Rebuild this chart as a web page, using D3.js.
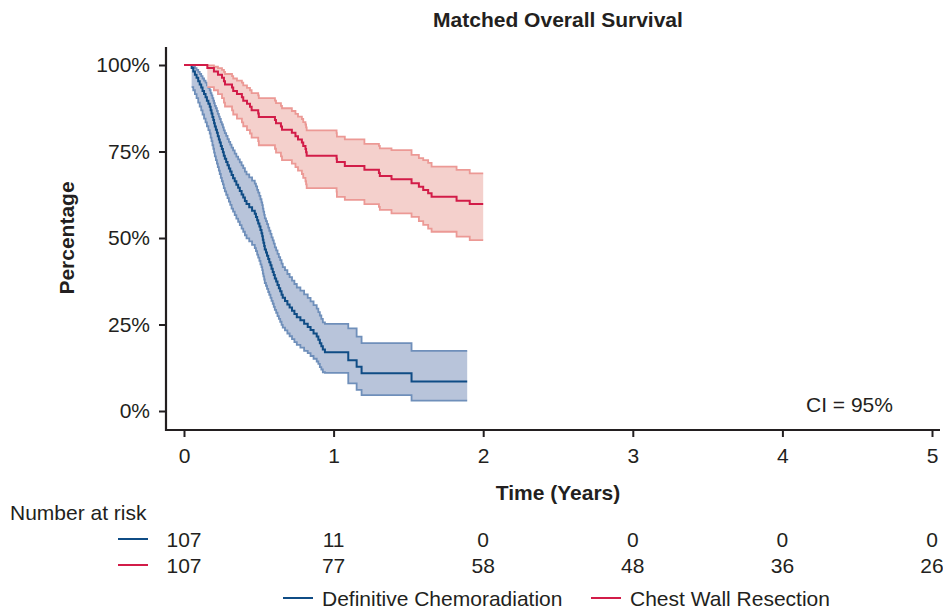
<!DOCTYPE html>
<html><head><meta charset="utf-8">
<script src="https://cdn.jsdelivr.net/npm/d3@7"></script>
<style>
html,body{margin:0;padding:0;background:#fff;}
svg{display:block;font-family:"Liberation Sans",Arial,Helvetica,sans-serif;}
</style></head>
<body><svg id="chart" width="943" height="611"></svg>
<script>
// ---------- data ----------
const title = "Matched Overall Survival";
const xTicks = [0, 1, 2, 3, 4, 5];
const yTicks = [0, 0.25, 0.5, 0.75, 1];
const yTickLabels = ["0%", "25%", "50%", "75%", "100%"];
const groups = ["Definitive Chemoradiation", "Chest Wall Resection"];
const riskBlue = [107, 11, 0, 0, 0, 0];
const riskRed = [107, 77, 58, 48, 36, 26];

// Definitive Chemoradiation (blue) KM steps
const blueTime = [0,
 0.051,0.062,0.073,0.084,0.095,0.105,
 0.115,0.124,0.134,0.144,0.153,0.163,0.172,
 0.178,0.184,0.190,0.196,0.201,0.206,
 0.213,0.220,0.226,0.233,0.239,
 0.246,0.253,0.260,0.266,0.273,
 0.282,0.291,0.300,0.309,0.318,
 0.328,0.339,0.350,
 0.362,0.373,0.385,0.396,0.407,0.418,
 0.436,0.455,0.473,
 0.481,0.489,0.496,0.504,0.511,0.518,
 0.523,0.527,0.531,0.536,0.540,
 0.548,0.555,0.563,0.570,0.578,0.585,0.593,0.600,0.607,
 0.616,0.625,0.634,0.643,0.652,0.660,
 0.675,0.691,0.706,0.722,0.738,0.754,
 0.778,0.803,0.827,
 0.846,0.866,0.887,
 0.898,0.908,0.918,0.928,
 0.942,
 1.098,1.154,1.187,1.521,1.893];
const blueSurv = [1,
 .991,.981,.972,.963,.953,.944,.935,.925,.916,.907,
 .897,.888,.879,.869,.860,.850,.841,.832,.822,.813,
 .804,.794,.785,.776,.766,.757,.748,.738,.729,.720,
 .710,.701,.692,.682,.673,.664,.654,.645,.636,.626,
 .617,.607,.598,.589,.579,.570,.561,.551,.542,.533,
 .523,.514,.505,.495,.486,.477,.467,.458,.449,.439,
 .430,.421,.411,.402,.393,.383,.374,.364,.355,.346,
 .336,.327,.318,.308,.299,.290,.280,.271,.262,.252,
 .243,.234,.224,.215,.206,.196,.187,.178,.170,
 .147,.128,.109,.085,.085];
const blueUpper = [1,
 .999,.995,.991,.986,.980,.974,.968,.961,.955,.949,
 .941,.934,.927,.919,.912,.904,.897,.890,.882,.875,
 .867,.859,.851,.844,.835,.828,.820,.811,.803,.795,
 .786,.778,.770,.761,.753,.744,.735,.727,.719,.710,
 .702,.692,.684,.675,.666,.657,.649,.639,.631,.622,
 .612,.603,.595,.585,.576,.567,.557,.549,.540,.530,
 .521,.512,.502,.493,.484,.473,.464,.454,.445,.436,
 .426,.416,.407,.396,.387,.377,.367,.357,.348,.337,
 .327,.317,.306,.296,.286,.276,.266,.256,.252,
 .239,.215,.196,.174,.174];
const blueLower = [1,
 .936,.927,.916,.904,.891,.880,.869,.857,.845,.834,
 .823,.812,.802,.790,.780,.768,.758,.747,.736,.725,
 .715,.705,.695,.685,.674,.664,.655,.644,.635,.625,
 .615,.605,.596,.585,.576,.566,.556,.547,.537,.527,
 .518,.508,.499,.490,.480,.471,.462,.452,.443,.434,
 .424,.416,.407,.397,.389,.380,.370,.362,.353,.344,
 .336,.327,.318,.310,.301,.292,.284,.274,.266,.258,
 .249,.241,.233,.224,.216,.208,.199,.191,.183,.174,
 .167,.159,.151,.143,.136,.127,.120,.112,.110,
 .080,.061,.046,.030,.030];

// Chest Wall Resection (red) KM steps
const redTime = [0,
 0.156,0.200,0.227,0.254,0.267,0.274,0.321,0.329,0.354,0.387,
 0.396,0.421,0.441,0.452,0.496,0.500,0.608,0.615,0.648,0.655,
 0.721,0.745,0.762,0.788,0.797,0.812,0.816,0.820,
 1.020,1.022,1.075,1.206,1.303,1.309,1.387,1.521,1.570,1.599,1.632,1.655,1.822,1.910,
 2.0];
const redSurv = [1,
 .991,.981,.972,.963,.953,.944,.935,.925,.916,.907,
 .897,.888,.879,.869,.860,.850,.841,.832,.822,.813,
 .804,.794,.785,.776,.766,.757,.748,.738,
 .729,.720,.708,.697,.688,.679,.670,.658,.648,.639,.629,.619,.608,.598,
 .598];
const redUpper = [1,
 .999,.995,.991,.986,.980,.974,.968,.961,.955,.949,
 .941,.934,.927,.919,.912,.904,.897,.890,.882,.875,
 .867,.859,.851,.844,.835,.828,.820,.811,
 .803,.793,.785,.772,.766,.759,.754,.740,.731,.725,.717,.706,.697,.687,
 .687];
const redLower = [1,
 .936,.927,.916,.904,.891,.880,.869,.857,.845,.834,
 .823,.812,.802,.790,.780,.768,.758,.747,.736,.725,
 .715,.705,.695,.685,.674,.664,.655,.644,
 .634,.619,.610,.598,.590,.581,.571,.561,.549,.538,.527,.518,.504,.494,
 .494];

// ---------- styles ----------
const C = {
  blueLine: "#0f4c85", blueFill: "#b8c4da", blueEdge: "#6f8fba",
  redLine: "#d21c48", redFill: "#f4d0cc", redEdge: "#ec9995",
  axis: "#231f20", text: "#231f20"
};
const FONT = 21;

const svg = d3.select("#chart");
const x = d3.scaleLinear().domain([0, 5]).range([184, 932]);
const y = d3.scaleLinear().domain([0, 1]).range([411, 65]);

function zip(t, s, u, l) {
  return t.map((tt, i) => ({t: tt, s: s[i], u: u[i], l: l[i]}));
}
const blue = zip(blueTime, blueSurv, blueUpper, blueLower);
const red = zip(redTime, redSurv, redUpper, redLower);

const area = d3.area().curve(d3.curveStepAfter)
  .x(d => x(d.t)).y0(d => y(d.l)).y1(d => y(d.u));
const lineS = d3.line().curve(d3.curveStepAfter).x(d => x(d.t)).y(d => y(d.s));
const lineU = d3.line().curve(d3.curveStepAfter).x(d => x(d.t)).y(d => y(d.u));
const lineL = d3.line().curve(d3.curveStepAfter).x(d => x(d.t)).y(d => y(d.l));

const plot = svg.append("g");
function band(data, fill, edge) {
  const b = data.slice(1);
  plot.append("path").datum(b).attr("d", area).attr("fill", fill).attr("stroke", "none");
  plot.append("path").datum(b).attr("d", lineU).attr("fill", "none").attr("stroke", edge).attr("stroke-width", 1.8);
  plot.append("path").datum(b).attr("d", lineL).attr("fill", "none").attr("stroke", edge).attr("stroke-width", 1.8);
}
band(blue, C.blueFill, C.blueEdge);
band(red, C.redFill, C.redEdge);
plot.append("path").datum(blue).attr("d", lineS).attr("fill", "none").attr("stroke", C.blueLine).attr("stroke-width", 2);
plot.append("path").datum(red).attr("d", lineS).attr("fill", "none").attr("stroke", C.redLine).attr("stroke-width", 2);

// ---------- axes ----------
const xAxis = svg.append("g").attr("transform", "translate(0,430)")
  .call(d3.axisBottom(x).tickValues(xTicks).tickSize(7).tickPadding(11).tickFormat(d3.format("d")));
xAxis.select(".domain").remove();
xAxis.append("line").attr("x1", 165).attr("x2", 940).attr("y1", 0).attr("y2", 0)
  .attr("stroke", C.axis).attr("stroke-width", 2.2);
xAxis.selectAll(".tick line").attr("stroke", C.axis).attr("stroke-width", 2);
xAxis.selectAll(".tick text").attr("font-size", FONT).attr("fill", C.text)
  .attr("font-family", "Liberation Sans, Arial, sans-serif");

const yAxis = svg.append("g").attr("transform", "translate(166,0)")
  .call(d3.axisLeft(y).tickValues(yTicks).tickSize(7).tickPadding(9)
    .tickFormat((d, i) => yTickLabels[i]));
yAxis.select(".domain").remove();
yAxis.append("line").attr("x1", 0).attr("x2", 0).attr("y1", 47).attr("y2", 431)
  .attr("stroke", C.axis).attr("stroke-width", 2.2);
yAxis.selectAll(".tick line").attr("stroke", C.axis).attr("stroke-width", 2);
yAxis.selectAll(".tick text").attr("font-size", FONT).attr("fill", C.text)
  .attr("font-family", "Liberation Sans, Arial, sans-serif");

// ---------- texts ----------
svg.append("text").attr("x", 558).attr("y", 27).attr("text-anchor", "middle")
  .attr("font-size", FONT).attr("font-weight", "bold").attr("fill", C.text).text(title);
svg.append("text").attr("transform", "translate(74,238) rotate(-90)").attr("text-anchor", "middle")
  .attr("font-size", FONT).attr("font-weight", "bold").attr("fill", C.text).text("Percentage");
svg.append("text").attr("x", 558).attr("y", 500).attr("text-anchor", "middle")
  .attr("font-size", FONT).attr("font-weight", "bold").attr("fill", C.text).text("Time (Years)");
svg.append("text").attr("x", 806).attr("y", 412).attr("font-size", FONT).attr("fill", C.text).text("CI = 95%");

// ---------- risk table ----------
svg.append("text").attr("x", 10).attr("y", 520).attr("font-size", FONT).attr("fill", C.text).text("Number at risk");
const rows = [{vals: riskBlue, color: C.blueLine, yy: 539}, {vals: riskRed, color: C.redLine, yy: 565}];
rows.forEach(r => {
  svg.append("line").attr("x1", 118).attr("x2", 148).attr("y1", r.yy).attr("y2", r.yy)
    .attr("stroke", r.color).attr("stroke-width", 2);
  svg.append("g").selectAll("text").data(r.vals).join("text")
    .attr("x", (d, i) => x(xTicks[i])).attr("y", r.yy + 8).attr("text-anchor", "middle")
    .attr("font-size", FONT).attr("fill", C.text).text(d => d);
});

// ---------- legend ----------
const legend = [{label: groups[0], color: C.blueLine, x0: 283}, {label: groups[1], color: C.redLine, x0: 591}];
legend.forEach(l => {
  svg.append("line").attr("x1", l.x0).attr("x2", l.x0 + 30).attr("y1", 598).attr("y2", 598)
    .attr("stroke", l.color).attr("stroke-width", 2);
  svg.append("text").attr("x", l.x0 + 39).attr("y", 606).attr("font-size", FONT).attr("fill", C.text).text(l.label);
});
</script></body></html>
